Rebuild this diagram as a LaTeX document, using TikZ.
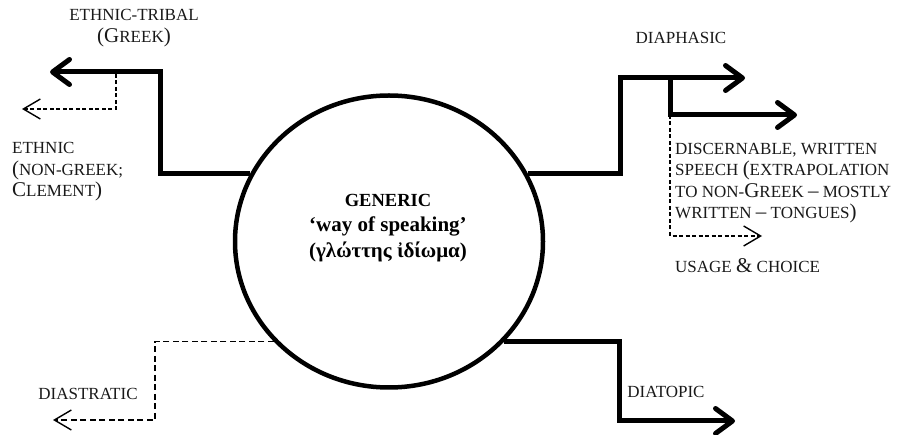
\documentclass[tikz,border=0pt]{standalone}
\usepackage{fontspec}
\setmainfont{Liberation Serif}
\usetikzlibrary{arrows.meta,shapes.geometric}
% caps standing in for small capitals
\newcommand\smc{\fontsize{17}{21.5}\selectfont}
\newcommand\bigc{\fontsize{21}{21.5}\selectfont}
\tikzset{
  x=1pt, y=1pt,
  solidline/.style={line width=5pt, line join=miter,
    -{Straight Barb[round, length=17pt, width=25pt]}},
  dashline/.style={line width=1.4pt, dash pattern=on 4pt off 2.5pt,
    -{Straight Barb[length=17pt, width=20pt, line width=1.4pt]}},
  lbl/.style={inner sep=0pt, font=\smc, text=black!90},
}
\begin{document}
\begin{tikzpicture}
\useasboundingbox (0,0) rectangle (897,-435);

% central concept
\node[ellipse, draw, line width=4.5pt, minimum width=308pt, minimum height=292pt,
      inner sep=0pt] (gen) at (389,-241.5) {};
\node[align=center, inner sep=0pt, font=\bfseries\fontsize{21}{25.5}\selectfont]
  (gentext) at (388,-228)
  {{\fontsize{18.5}{25.5}\selectfont GENERIC}\\ ‘way of speaking’\\ (γλώττης ἰδίωμα)};

% free ends and corners of the branches
\coordinate (lc) at (160,-72);
\coordinate (ltip) at (50,-72);
\coordinate (ebr) at (116,-74);
\coordinate (etip) at (22,-109);
\coordinate (rc) at (620,-78);
\coordinate (rtip) at (745,-78);
\coordinate (rbr) at (670,-78);
\coordinate (wtip) at (797,-115);
\coordinate (wc) at (670,-115);
\coordinate (utip) at (762,-236);
\coordinate (brc) at (619,-421);
\coordinate (btip) at (735,-421);
\coordinate (blc) at (155,-420);
\coordinate (dtip) at (53,-420);

% branches
\draw[solidline] (gen.154) -| (lc) -- (ltip);
\draw[dashline] (ebr) |- (etip);
\draw[solidline] (gen.26) -| (rc) -- (rtip);
\draw[solidline] (rbr) |- (wtip);
\draw[dashline] (wc) |- (utip);
\draw[solidline] (gen.-41) -| (brc) -- (btip);
\draw[dashline, dash pattern=on 6pt off 3.5pt, line width=1.6pt] (gen.-139) -| (blc) -- (dtip);

% labels
\node[lbl, align=center] (tribal) at (134,-28) {ETHNIC-TRIBAL\\{\bigc(G}REEK{\bigc)}};
\node[lbl, align=left, anchor=west] (ethnic) at (12,-172)
  {ETHNIC\\{\bigc(}NON-GREEK;\\{\bigc C}LEMENT{\bigc)}};
\node[lbl] (diaphasic) at (681,-38) {DIAPHASIC};
\node[lbl, align=left, anchor=west] (written) at (675,-183)
  {DISCERNABLE, WRITTEN\\SPEECH {\bigc(}EXTRAPOLATION\\TO NON-{\bigc G}REEK {\bigc –} MOSTLY\\WRITTEN {\bigc –} TONGUES{\bigc)}};
\node[lbl, anchor=west] (usage) at (675,-266) {USAGE {\bigc\&} CHOICE};
\node[lbl] (diastratic) at (88,-394) {DIASTRATIC};
\node[lbl] (diatopic) at (666,-392) {DIATOPIC};
\end{tikzpicture}
\end{document}
